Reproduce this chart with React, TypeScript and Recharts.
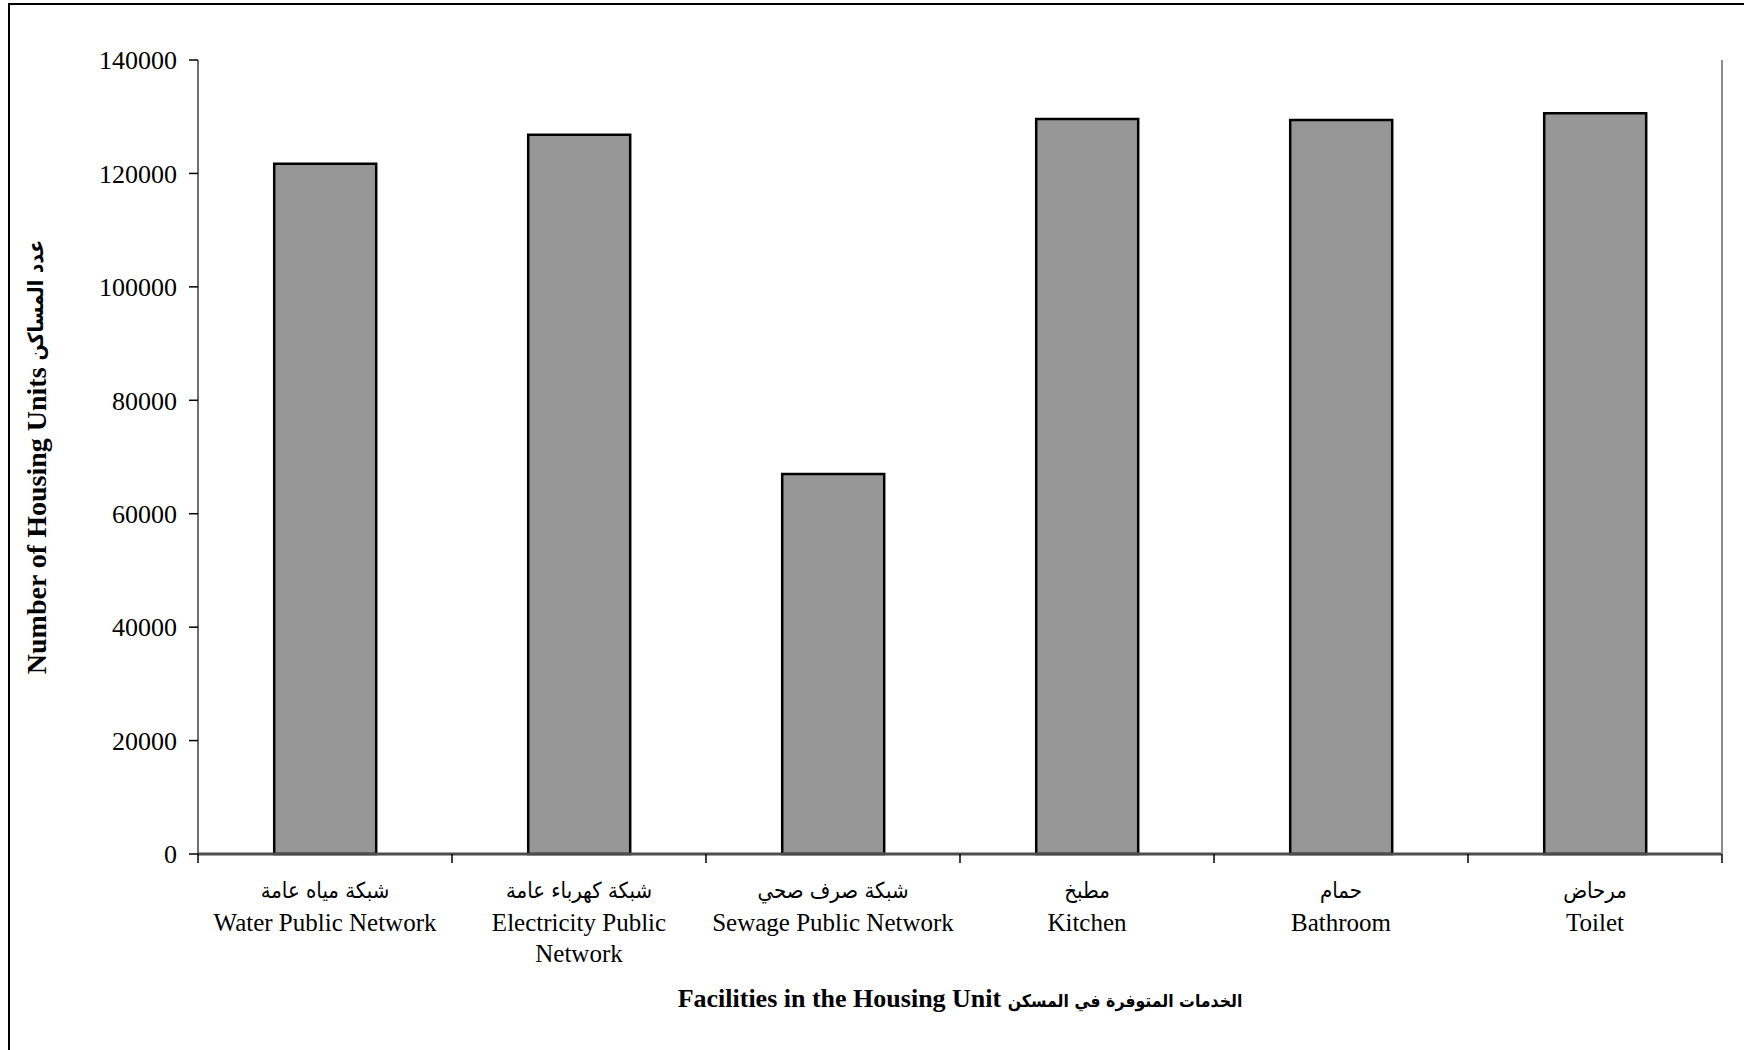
import { BarChart, Bar, XAxis, YAxis, Label } from "recharts"

const CATEGORIES_AR = ["شبكة مياه  عامة", "شبكة كهرباء عامة", "شبكة صرف صحي", "مطبخ", "حمام", "مرحاض"]
const CATEGORIES_EN = [
  ["Water Public Network"],
  ["Electricity Public", "Network"],
  ["Sewage Public Network"],
  ["Kitchen"],
  ["Bathroom"],
  ["Toilet"],
]
const HOUSING_UNITS = [121700, 126800, 67000, 129600, 129400, 130600]
const Y_TICKS = [0, 20000, 40000, 60000, 80000, 100000, 120000, 140000]

const Y_TITLE_EN = "Number of Housing Units"
const Y_TITLE_AR = "عدد المساكن"
const X_TITLE_EN = "Facilities in the Housing Unit"
const X_TITLE_AR = "الخدمات المتوفرة في المسكن"

const data = CATEGORIES_AR.map((ar, i) => ({ ar, units: HOUSING_UNITS[i] }))

const W = 1744
const H = 1050
const LEFT = 198
const RIGHT = 22
const BAND = (W - LEFT - RIGHT) / CATEGORIES_AR.length
const FONT = "'Liberation Serif', 'Times New Roman', 'DejaVu Sans', serif"
const AR_FONT = "'DejaVu Sans Condensed', 'DejaVu Sans', sans-serif"

function CategoryTick(props: any) {
  const { x, y, payload } = props
  const half = payload.offset || BAND / 2
  const i = CATEGORIES_AR.indexOf(payload.value)
  const last = i === CATEGORIES_AR.length - 1
  return (
    <g>
      <line x1={x - half} x2={x - half} y1={y} y2={y + 9} stroke="#000" strokeWidth={1.5} />
      {last && <line x1={x + half} x2={x + half} y1={y} y2={y + 9} stroke="#000" strokeWidth={1.5} />}
      <text x={x} y={y + 44} textAnchor="middle" fontSize={22} fontFamily={AR_FONT} fill="#000">
        {CATEGORIES_AR[i]}
      </text>
      {CATEGORIES_EN[i].map((line, j) => (
        <text key={j} x={x} y={y + 77 + j * 31} textAnchor="middle" fontSize={25} fontFamily={FONT} fill="#000">
          {line}
        </text>
      ))}
    </g>
  )
}

export default function App() {
  return (
    <div style={{ position: "absolute", left: 0, top: 0, width: W, height: H, overflow: "hidden", background: "#fff" }}>
      <div
        style={{
          position: "absolute",
          left: 8,
          top: 3,
          width: W,
          height: H,
          border: "2px solid #000",
        }}
      />
      <div style={{ position: "absolute", left: 0, top: 0 }}>
        <BarChart width={W} height={H} data={data} margin={{ top: 60, right: RIGHT - 1, bottom: 0, left: 0 }} barCategoryGap="30%">
          <XAxis
            dataKey="ar"
            height={196}
            interval={0}
            tick={<CategoryTick />}
            tickLine={false}
            tickSize={0}
            tickMargin={0}
            axisLine={{ stroke: "#4d4d4d", strokeWidth: 3 }}
          >
            <Label
              content={(p: any) => (
                <text
                  x={p.viewBox.x + p.viewBox.width / 2}
                  y={p.viewBox.y + 153}
                  textAnchor="middle"
                  fontSize={26}
                  fontWeight="bold"
                  fontFamily={FONT}
                  fill="#000"
                >
                  <tspan>{X_TITLE_EN} </tspan>
                  <tspan fontFamily={AR_FONT} fontSize={17.5}>{X_TITLE_AR}</tspan>
                </text>
              )}
            />
          </XAxis>
          <XAxis xAxisId="top" dataKey="ar" orientation="top" height={0} tick={false} tickLine={false} axisLine={{ stroke: "#8c8c8c", strokeWidth: 2 }} />
          <YAxis
            width={LEFT}
            domain={[0, 140000]}
            ticks={Y_TICKS}
            interval={0}
            tickSize={9}
            tickMargin={12}
            tickLine={{ stroke: "#000", strokeWidth: 1.5 }}
            axisLine={{ stroke: "#404040", strokeWidth: 1.5 }}
            tick={{ fill: "#000", fontSize: 26, fontFamily: FONT }}
          >
            <Label
              content={(p: any) => {
                const cx = 36
                const cy = p.viewBox.y + p.viewBox.height / 2
                return (
                  <text
                    x={cx}
                    y={cy}
                    transform={`rotate(-90, ${cx}, ${cy})`}
                    textAnchor="middle"
                    dominantBaseline="central"
                    fontSize={28}
                    fontWeight="bold"
                    fontFamily={FONT}
                    fill="#000"
                  >
                    <tspan>{Y_TITLE_EN} </tspan>
                    <tspan fontFamily={AR_FONT} fontSize={21}>{Y_TITLE_AR}</tspan>
                  </text>
                )
              }}
            />
          </YAxis>
          <YAxis
            yAxisId="right"
            orientation="right"
            width={1}
            domain={[0, 140000]}
            tick={false}
            tickLine={false}
            axisLine={{ stroke: "#8c8c8c", strokeWidth: 2 }}
          />
          <Bar dataKey="units" fill="#969696" stroke="#000" strokeWidth={2.5} isAnimationActive={false} />
        </BarChart>
      </div>
    </div>
  )
}
